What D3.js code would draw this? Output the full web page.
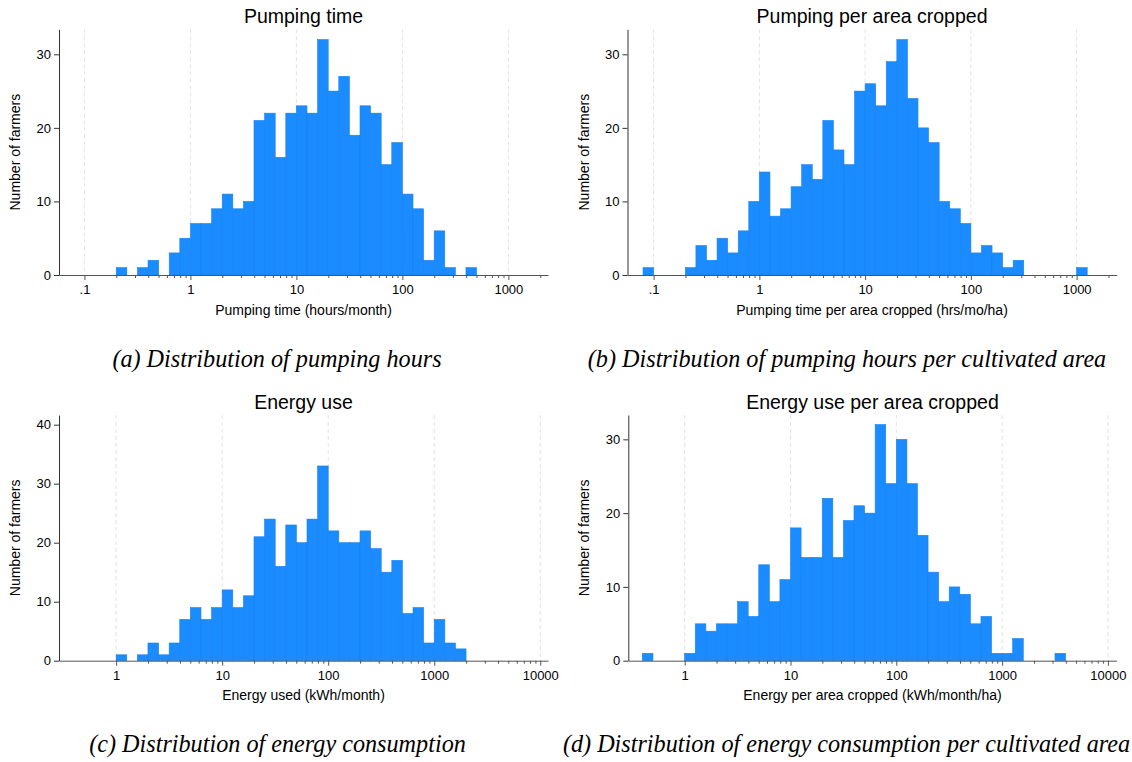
<!DOCTYPE html>
<html>
<head>
<meta charset="utf-8">
<script src="https://cdn.jsdelivr.net/npm/d3@7"></script>
<style>
  body { margin: 0; background: #fff; }
  svg text { font-family: "Liberation Sans", Arial, Helvetica, sans-serif; fill: #000; }
</style>
</head>
<body>
<script>
// every histogram uses bins of 0.1 on a log10 scale
var binStep = 0.1;

// (a) pumping time, hours/month -- first bin starts at 10^-0.7
var pumpStart = -0.7;
var pumpCounts = [1, 0, 1, 2, 0, 3, 5, 7, 7, 9, 11, 9, 10, 21, 22, 16, 22, 23, 22, 32,
                  25, 27, 19, 23, 22, 15, 18, 11, 9, 2, 6, 1, 0, 1];

// (b) pumping time per area cropped, hrs/mo/ha -- first bin at 10^-1.1
var pumpAreaStart = -1.1;
var pumpAreaCounts = [1, 0, 0, 0, 1, 4, 2, 5, 3, 6, 10, 14, 8, 9, 12, 15, 13, 21, 17, 15,
                      25, 26, 23, 29, 32, 24, 20, 18, 10, 9, 7, 3, 4, 3, 1, 2,
                      0, 0, 0, 0, 0, 1];

// (c) energy used, kWh/month -- first bin at 10^0
var energyStart = 0.0;
var energyCounts = [1, 0, 1, 3, 1, 3, 7, 9, 7, 9, 12, 9, 11, 21, 24, 16, 23, 20, 24, 33,
                    22, 20, 20, 22, 19, 15, 17, 8, 9, 3, 7, 3, 2];

// (d) energy per area cropped, kWh/month/ha -- first bin at 10^-0.4
var energyAreaStart = -0.4;
var energyAreaCounts = [1, 0, 0, 0, 1, 5, 4, 5, 5, 8, 6, 13, 8, 11, 18, 14, 14, 22, 14, 19,
                        21, 20, 32, 24, 30, 24, 17, 12, 8, 10, 9, 5, 6, 1, 1, 3,
                        0, 0, 0, 1];

// tick values and labels
var xTicksPump = [0.1, 1, 10, 100, 1000];
var xLabelsPump = [".1", "1", "10", "100", "1000"];
var xTicksEnergy = [1, 10, 100, 1000, 10000];
var xLabelsEnergy = ["1", "10", "100", "1000", "10000"];
var yTicks30 = [0, 10, 20, 30];
var yTicks40 = [0, 10, 20, 30, 40];

var titles = ["Pumping time", "Pumping per area cropped", "Energy use", "Energy use per area cropped"];
var xTitles = ["Pumping time (hours/month)", "Pumping time per area cropped (hrs/mo/ha)",
               "Energy used (kWh/month)", "Energy per area cropped (kWh/month/ha)"];
var captions = ["(a) Distribution of pumping hours",
                "(b) Distribution of pumping hours per cultivated area",
                "(c) Distribution of energy consumption",
                "(d) Distribution of energy consumption per cultivated area"];

var barColor = "#1a8cff";

var svg = d3.select("body").append("svg")
    .attr("width", 1132)
    .attr("height", 762);

// layout of the four panels (log10 extent of the x axis, pixel box)
var panels = [
  { start: pumpStart, counts: pumpCounts, ticks: xTicksPump, labels: xLabelsPump, yTicks: yTicks30,
    lo: -1.24, hi: 3.374, left: 59, right: 548, top: 29.3, bottom: 275, ymax: 33.4, ylabX: 20, capX: 277, capY: 367 },
  { start: pumpAreaStart, counts: pumpAreaCounts, ticks: xTicksPump, labels: xLabelsPump, yTicks: yTicks30,
    lo: -1.247, hi: 3.378, left: 627.5, right: 1116.6, top: 29.3, bottom: 275, ymax: 33.4, ylabX: 589, capX: 847, capY: 367 },
  { start: energyStart, counts: energyCounts, ticks: xTicksEnergy, labels: xLabelsEnergy, yTicks: yTicks40,
    lo: -0.539, hi: 4.073, left: 59, right: 548, top: 415, bottom: 660.7, ymax: 41.64, ylabX: 20, capX: 277.5, capY: 752 },
  { start: energyAreaStart, counts: energyAreaCounts, ticks: xTicksEnergy, labels: xLabelsEnergy, yTicks: yTicks30,
    lo: -0.533, hi: 4.082, left: 628.3, right: 1116.6, top: 415, bottom: 660.7, ymax: 33.3, ylabX: 589, capX: 846.5, capY: 752 }
];

function drawPanel(p, k) {
  var g = svg.append("g");

  var x = d3.scaleLog()
      .domain([Math.pow(10, p.lo), Math.pow(10, p.hi)])
      .range([p.left, p.right]);
  var y = d3.scaleLinear()
      .domain([0, p.ymax])
      .range([p.bottom, p.top]);

  // dashed vertical grid at the decades
  g.selectAll(".grid")
      .data(p.ticks)
      .enter().append("line")
      .attr("x1", function (d) { return x(d); })
      .attr("x2", function (d) { return x(d); })
      .attr("y1", p.top)
      .attr("y2", p.bottom)
      .attr("stroke", "#e3e3e3")
      .attr("stroke-width", 1)
      .attr("stroke-dasharray", "4,3");

  // histogram bars
  var bins = p.counts.map(function (c, i) {
    var e = p.start + i * binStep;
    return { x0: Math.pow(10, e), x1: Math.pow(10, e + binStep), n: c };
  }).filter(function (d) { return d.n > 0; });

  g.selectAll(".bar")
      .data(bins)
      .enter().append("rect")
      .attr("x", function (d) { return x(d.x0); })
      .attr("width", function (d) { return x(d.x1) - x(d.x0); })
      .attr("y", function (d) { return y(d.n); })
      .attr("height", function (d) { return y(0) - y(d.n); })
      .attr("fill", barColor)
      .attr("stroke", "#1780ee")
      .attr("stroke-width", 0.6);

  // minor ticks 2..9 of every decade from the first major tick on
  var minors = [];
  p.ticks.forEach(function (t) {
    for (var m = 2; m <= 9; m++) {
      var v = t * m;
      if (v < Math.pow(10, p.hi)) minors.push(v);
    }
  });

  var xMinor = g.append("g")
      .attr("transform", "translate(0," + p.bottom + ")")
      .call(d3.axisBottom(x).tickValues(minors).tickSize(3).tickFormat(""));
  xMinor.select(".domain").remove();
  xMinor.selectAll("line").attr("stroke", "#555");

  var xAxis = g.append("g")
      .attr("transform", "translate(0," + p.bottom + ")")
      .call(d3.axisBottom(x)
        .tickValues(p.ticks)
        .tickSize(5)
        .tickSizeOuter(0)
        .tickPadding(5)
        .tickFormat(function (d, i) { return p.labels[i]; }));
  xAxis.select(".domain").attr("stroke", "#555");
  xAxis.selectAll("line").attr("stroke", "#555");
  xAxis.selectAll("text")
      .attr("font-size", 13)
      .attr("font-family", "Liberation Sans, Arial, sans-serif");

  var yAxis = g.append("g")
      .attr("transform", "translate(" + p.left + ",0)")
      .call(d3.axisLeft(y)
        .tickValues(p.yTicks)
        .tickSize(5)
        .tickSizeOuter(0)
        .tickPadding(3));
  yAxis.select(".domain").attr("stroke", "#333");
  yAxis.selectAll("line").attr("stroke", "#333");
  yAxis.selectAll("text")
      .attr("font-size", 13)
      .attr("font-family", "Liberation Sans, Arial, sans-serif");

  // panel title
  var cx = (p.left + p.right) / 2;
  g.append("text")
      .attr("x", cx)
      .attr("y", p.top - 6)
      .attr("text-anchor", "middle")
      .attr("font-size", 19.5)
      .text(titles[k]);

  // x axis title
  g.append("text")
      .attr("x", cx)
      .attr("y", p.bottom + 39.5)
      .attr("text-anchor", "middle")
      .attr("font-size", 14)
      .text(xTitles[k]);

  // y axis title
  g.append("text")
      .attr("transform", "translate(" + p.ylabX + "," + ((p.top + p.bottom) / 2) + ") rotate(-90)")
      .attr("text-anchor", "middle")
      .attr("font-size", 14)
      .text("Number of farmers");

  // subfigure caption
  g.append("text")
      .attr("x", p.capX)
      .attr("y", p.capY)
      .attr("text-anchor", "middle")
      .attr("font-size", 24.2)
      .attr("font-style", "italic")
      .style("font-family", "'Liberation Serif', 'Times New Roman', serif")
      .text(captions[k]);
}

panels.forEach(drawPanel);
</script>
</body>
</html>
